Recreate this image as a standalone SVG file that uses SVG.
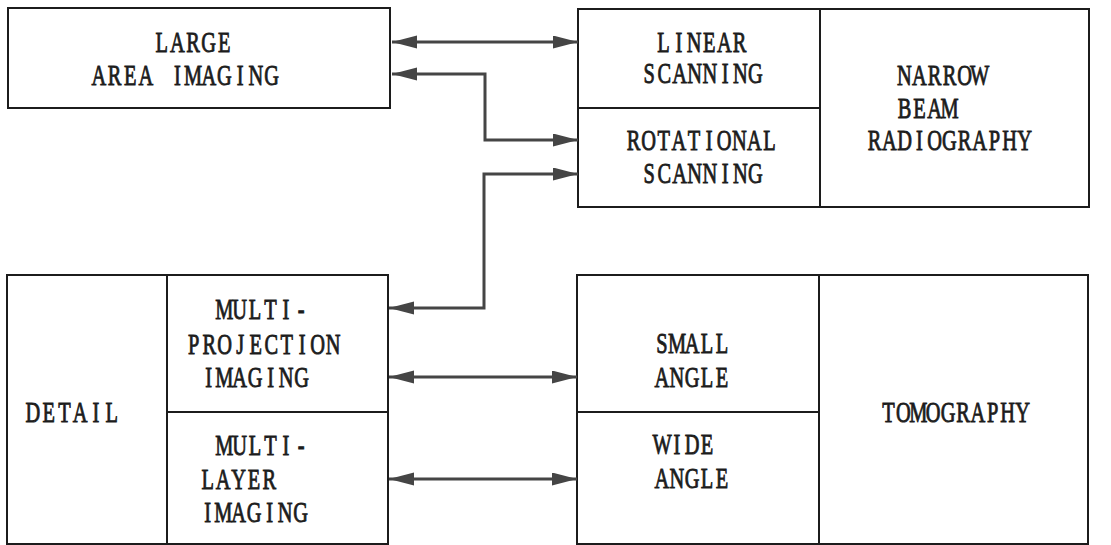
<svg xmlns="http://www.w3.org/2000/svg" width="1111" height="545" viewBox="0 0 1111 545">
  <style>
    .box { fill: none; stroke: #1c1c1c; stroke-width: 2; }
    .div { stroke: #1c1c1c; stroke-width: 2; fill: none; }
    /* condensed serif lettering on a fixed character grid */
    .lbl { font-family: "Liberation Serif", "DejaVu Serif", serif; font-size: 30px; fill: #1c1c1c; stroke: #1c1c1c; stroke-width: 0.9; text-anchor: middle; }
    .link { fill: none; stroke: #454545; stroke-width: 3; marker-start: url(#head); marker-end: url(#head); }
  </style>
  <defs>
    <marker id="head" markerUnits="userSpaceOnUse" markerWidth="26" markerHeight="14" refX="25" refY="6.5" orient="auto-start-reverse" viewBox="0 0 26 14">
      <path d="M0,0 L25,6.5 L0,13 Z" fill="#454545"/>
    </marker>
  </defs>
  <rect width="1111" height="545" fill="#ffffff"/>

  <!-- large area imaging -->
  <g id="large-area">
    <rect class="box" x="8" y="8" width="382" height="100"/>
    <text class="lbl" transform="translate(154,52) scale(0.68,1)" x="11.47 34.41 57.35 80.29 103.23">LARGE</text>
    <text class="lbl" transform="translate(91,85) scale(0.68,1)" x="11.55 34.64 57.73 80.82 103.91 127 150.09 173.18 196.27 219.36 242.45 265.54">AREA IMAGING</text>
  </g>

  <!-- narrow beam radiography with its two scanning modes -->
  <g id="narrow-beam">
    <rect class="box" x="578" y="9" width="511" height="198"/>
    <path class="div" d="M820,9 V207 M578,108 H820"/>
    <text class="lbl" transform="translate(897,85) scale(0.68,1)" x="11.03 33.09 55.15 77.21 99.27 121.33">NARROW</text>
    <text class="lbl" transform="translate(897,118) scale(0.68,1)" x="11.03 33.09 55.15 77.21">BEAM</text>
    <text class="lbl" transform="translate(867,150) scale(0.68,1)" x="11.03 33.09 55.15 77.21 99.27 121.33 143.39 165.45 187.51 209.57 231.63">RADIOGRAPHY</text>
  </g>
  <g id="linear-scanning">
    <text class="lbl" transform="translate(656,52) scale(0.68,1)" x="11.18 33.53 55.88 78.23 100.58 122.93">LINEAR</text>
    <text class="lbl" transform="translate(641.5,83) scale(0.68,1)" x="11.18 33.53 55.88 78.23 100.58 122.93 145.28 167.63">SCANNING</text>
  </g>
  <g id="rotational-scanning">
    <text class="lbl" transform="translate(626,150) scale(0.68,1)" x="11.1 33.31 55.52 77.73 99.94 122.15 144.36 166.57 188.78 210.99">ROTATIONAL</text>
    <text class="lbl" transform="translate(641.5,183) scale(0.68,1)" x="11.18 33.53 55.88 78.23 100.58 122.93 145.28 167.63">SCANNING</text>
  </g>

  <!-- detail imaging -->
  <g id="detail">
    <rect class="box" x="7" y="275" width="381" height="269"/>
    <path class="div" d="M167,275 V544 M167,412 H388"/>
    <text class="lbl" transform="translate(25,422) scale(0.68,1)" x="11.58 34.74 57.9 81.06 104.22 127.38">DETAIL</text>
  </g>
  <g id="multi-projection">
    <text class="lbl" transform="translate(216.5,319) scale(0.68,1)" x="11.32 33.97 56.62 79.27 101.92 124.57">MULTI-</text>
    <text class="lbl" transform="translate(186,354) scale(0.68,1)" x="11.4 34.19 56.98 79.77 102.56 125.35 148.14 170.93 193.72 216.51">PROJECTION</text>
    <text class="lbl" transform="translate(201,387) scale(0.68,1)" x="11.4 34.19 56.98 79.77 102.56 125.35 148.14">IMAGING</text>
  </g>
  <g id="multi-layer">
    <text class="lbl" transform="translate(216.5,455) scale(0.68,1)" x="11.32 33.97 56.62 79.27 101.92 124.57">MULTI-</text>
    <text class="lbl" transform="translate(200,489) scale(0.68,1)" x="11.32 33.97 56.62 79.27 101.92">LAYER</text>
    <text class="lbl" transform="translate(200,522) scale(0.68,1)" x="11.4 34.19 56.98 79.77 102.56 125.35 148.14">IMAGING</text>
  </g>

  <!-- tomography -->
  <g id="tomography">
    <rect class="box" x="577" y="275" width="511" height="269"/>
    <path class="div" d="M819,275 V544 M577,412 H819"/>
    <text class="lbl" transform="translate(881,422) scale(0.68,1)" x="10.96 32.87 54.78 76.69 98.6 120.51 142.42 164.33 186.24 208.15">TOMOGRAPHY</text>
  </g>
  <g id="small-angle">
    <text class="lbl" transform="translate(654.5,353) scale(0.68,1)" x="11.03 33.09 55.15 77.21 99.27">SMALL</text>
    <text class="lbl" transform="translate(654.5,387) scale(0.68,1)" x="11.03 33.09 55.15 77.21 99.27">ANGLE</text>
  </g>
  <g id="wide-angle">
    <text class="lbl" transform="translate(654.5,454) scale(0.68,1)" x="11.03 33.09 55.15 77.21">WIDE</text>
    <text class="lbl" transform="translate(654.5,488) scale(0.68,1)" x="11.03 33.09 55.15 77.21 99.27">ANGLE</text>
  </g>

  <!-- two-headed links -->
  <g id="connectors">
    <path class="link" d="M392,42 H578"/>
    <path class="link" d="M392,74 H485 V140 H578"/>
    <path class="link" d="M578,174 H484 V308 H389"/>
    <path class="link" d="M389,377 H577"/>
    <path class="link" d="M389,479 H577"/>
  </g>
</svg>
